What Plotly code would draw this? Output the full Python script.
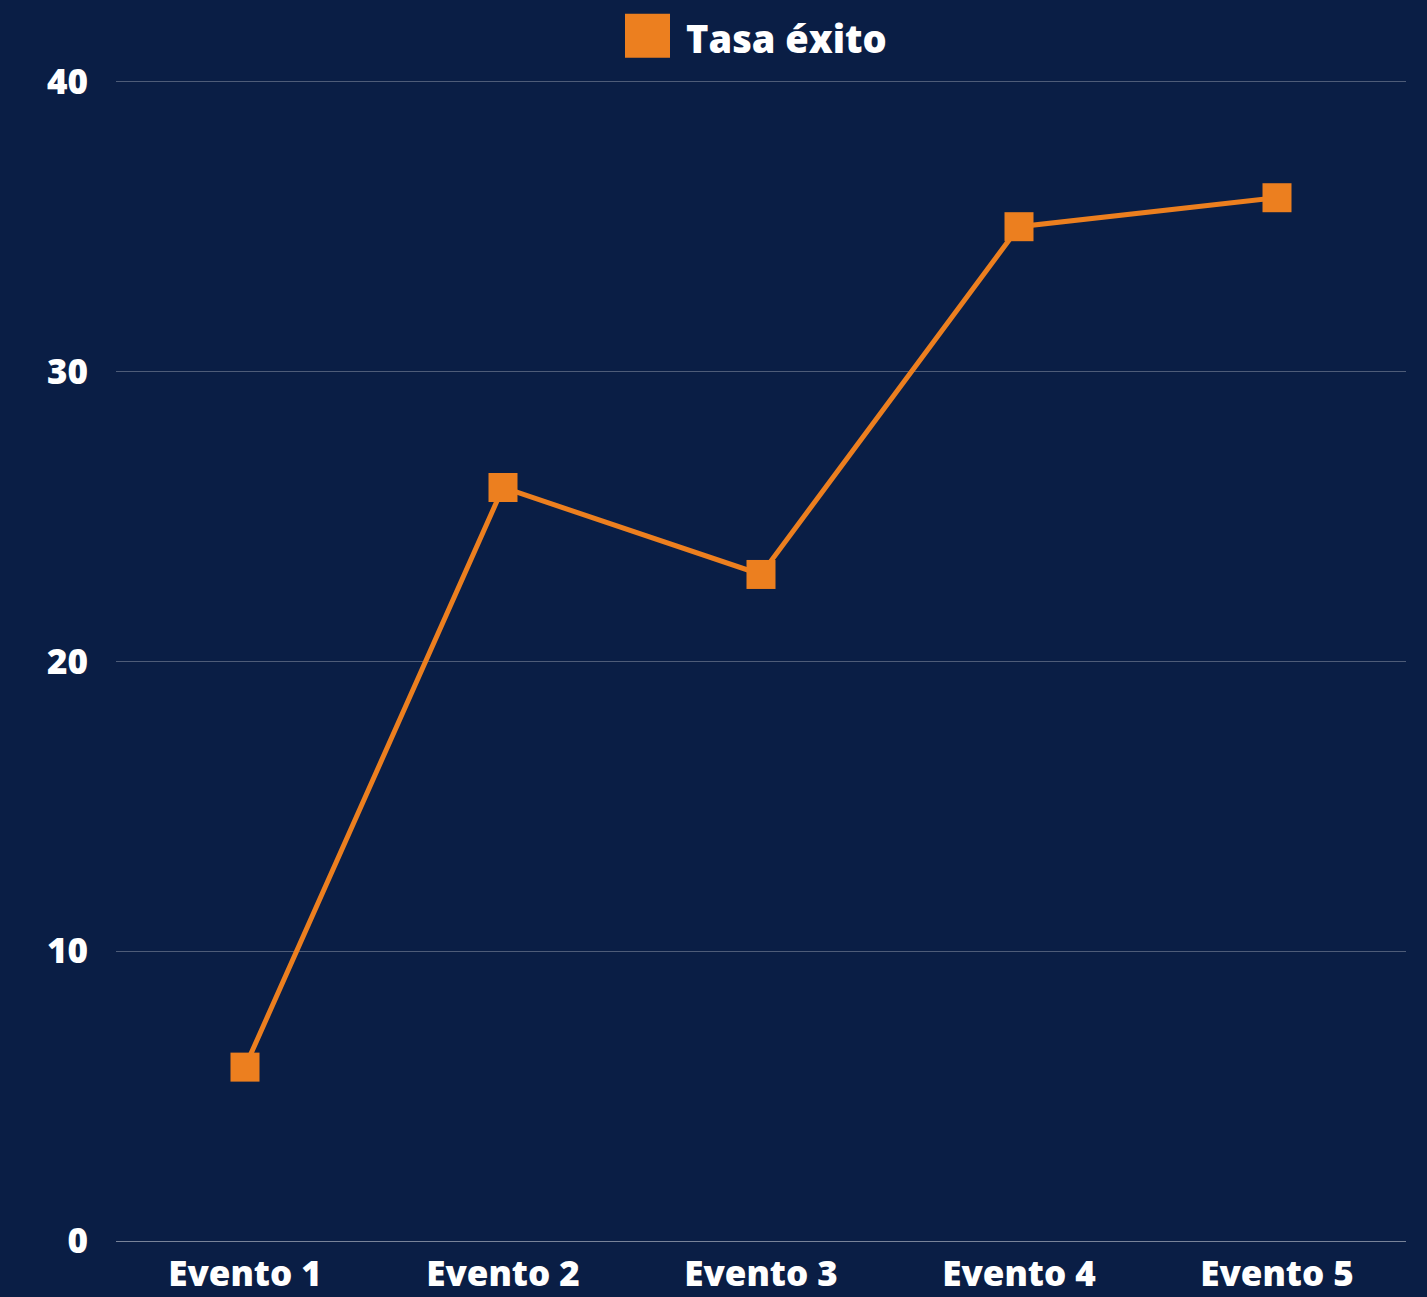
import plotly.graph_objects as go

categories = ["Evento 1", "Evento 2", "Evento 3", "Evento 4", "Evento 5"]
tasa_exito = [6, 26, 23, 35, 36]
series_name = "Tasa éxito"
y_ticks = [0, 10, 20, 30, 40]

ORANGE = "#EC7F1F"
BG = "#0a1e45"
FONT = "Open Sans"

Y_TOP = 40.2
PLOT_TOP = 82 - 1159 * (Y_TOP - 40) / 40  # pixel of the plot area's top edge
PLOT_H = 1241 - PLOT_TOP

fig = go.Figure()
fig.add_trace(go.Scatter(
    x=categories, y=tasa_exito, name=series_name,
    mode="lines+markers",
    line=dict(color=ORANGE, width=5),
    marker=dict(symbol="square", size=29, color=ORANGE),
    showlegend=False,
))

def py(pix):
    return (1241 - pix) / PLOT_H

# legend replica (square swatch + label)
fig.add_shape(type="rect", xref="paper", yref="paper",
              x0=(625 - 116) / 1290, x1=(670 - 116) / 1290,
              y0=py(58), y1=py(14),
              fillcolor=ORANGE, line=dict(width=0))
fig.add_annotation(text=series_name, xref="paper", yref="paper",
                   x=(684 - 116) / 1290, y=py(38),
                   xanchor="left", yanchor="middle", showarrow=False,
                   font=dict(family=FONT, size=38, color="white", weight=800))

fig.update_layout(
    width=1427, height=1297,
    margin=dict(l=116, r=21, t=round(PLOT_TOP), b=56, autoexpand=False),
    paper_bgcolor=BG, plot_bgcolor="rgba(0,0,0,0)",
    font=dict(family=FONT, color="white"),
)
fig.update_xaxes(
    type="category", range=[-0.5, 4.5], showgrid=False, zeroline=False,
    showline=False, ticks="outside", ticklen=2, tickcolor="rgba(0,0,0,0)",
    automargin=False,
    tickfont=dict(family=FONT, size=35, color="white", weight=800),
)
fig.update_yaxes(
    range=[0, Y_TOP], tickvals=y_ticks, showgrid=True,
    gridcolor="rgba(255,255,255,0.28)", gridwidth=1,
    zeroline=True, zerolinecolor="rgba(255,255,255,0.45)", zerolinewidth=1,
    ticks="outside", ticklen=20, tickcolor="rgba(0,0,0,0)",
    automargin=False,
    tickfont=dict(family=FONT, size=35, color="white", weight=800),
)

fig.write_html("out.html", config={"displayModeBar": False},
               post_script="document.body.style.margin='0';")
